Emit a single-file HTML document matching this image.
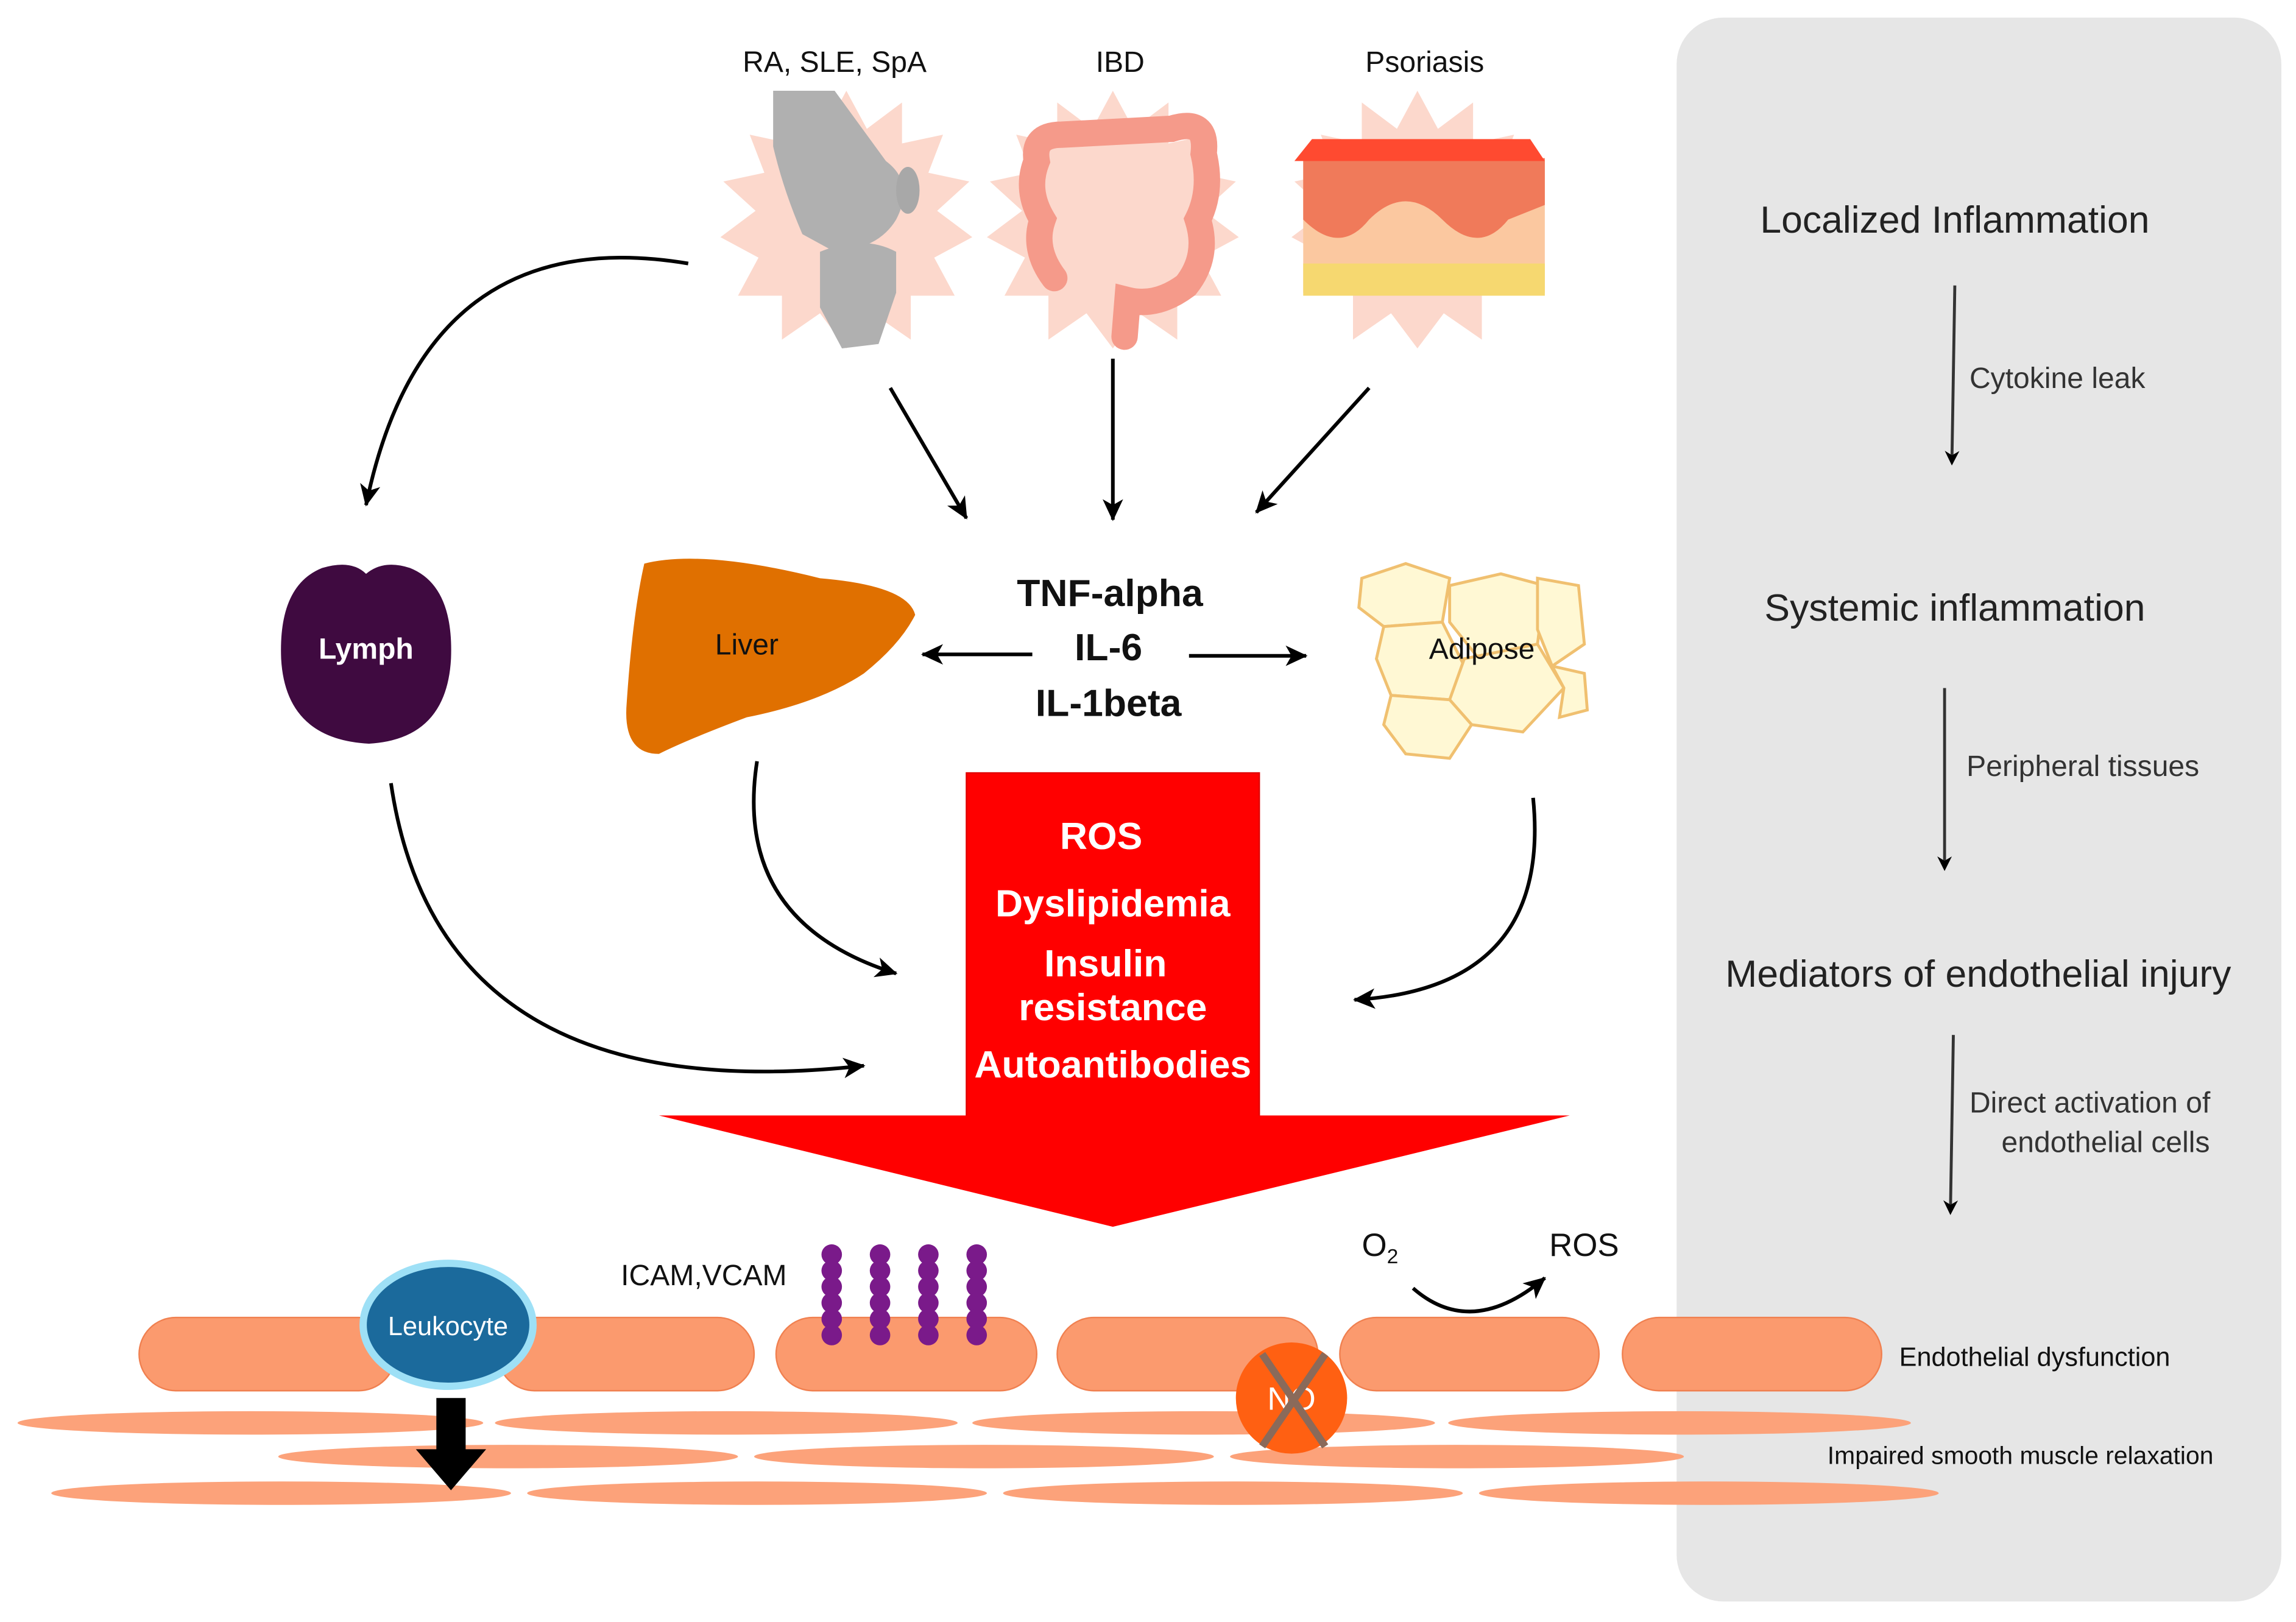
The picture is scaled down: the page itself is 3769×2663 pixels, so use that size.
<!DOCTYPE html>
<html><head><meta charset="utf-8"><style>
html,body{margin:0;padding:0;background:#fff;}
svg{display:block;}
text{font-family:"Liberation Sans",sans-serif;}
</style></head><body>
<svg width="3769" height="2663" viewBox="0 0 1568 1108" preserveAspectRatio="none" xmlns="http://www.w3.org/2000/svg">
<defs>
<marker id="ah" markerWidth="10" markerHeight="10" refX="8" refY="5" orient="auto" markerUnits="userSpaceOnUse">
<path d="M0,0 L10,5 L0,10 L3,5 Z" fill="#000"/></marker>
<marker id="ah2" markerWidth="16" markerHeight="16" refX="14" refY="8" orient="auto" markerUnits="userSpaceOnUse">
<path d="M0,1 L15,8 L0,15 L4,8 Z" fill="#000"/></marker>
<g id="chain"><circle cx="0" cy="0" r="7"/><circle cx="0" cy="11" r="7"/><circle cx="0" cy="22" r="7"/><circle cx="0" cy="33" r="7"/><circle cx="0" cy="44" r="7"/><circle cx="0" cy="55" r="7"/></g>
</defs>
<rect width="1568" height="1108" fill="#fff"/>
<rect x="1145" y="12" width="413" height="1082" rx="32" fill="#e6e6e6"/>
<g font-size="26" text-anchor="middle" fill="#222">
<text x="1335" y="159">Localized Inflammation</text>
<text x="1335" y="424">Systemic inflammation</text>
<text x="1351" y="674">Mediators of endothelial injury</text>
</g>
<g stroke="#333" stroke-width="2" marker-end="url(#ah)">
<line x1="1335" y1="195" x2="1333" y2="316"/>
<line x1="1328" y1="470" x2="1328" y2="593"/>
<line x1="1334" y1="707" x2="1332" y2="828"/>
</g>
<g font-size="20" fill="#333">
<text x="1345" y="265">Cytokine leak</text>
<text x="1343" y="530">Peripheral tissues</text>
<text x="1345" y="760">Direct activation of</text>
<text x="1438" y="787" text-anchor="middle">endothelial cells</text>
<text x="1297" y="933" font-size="18" fill="#111">Endothelial dysfunction</text>
<text x="1248" y="1000" font-size="17" fill="#111">Impaired smooth muscle relaxation</text>
</g>
<g font-size="20" text-anchor="middle" fill="#111">
<text x="570" y="49">RA, SLE, SpA</text>
<text x="765" y="49">IBD</text>
<text x="973" y="49">Psoriasis</text>
</g>
<g fill="#fcd8cc">
<polygon id="sb" points="0,-88 14,-62 38,-80 38,-52 66,-58 56,-32 84,-26 62,-6 86,12 60,26 74,52 44,52 44,82 18,64 0,88 -18,64 -44,82 -44,52 -74,52 -60,26 -86,12 -62,-6 -84,-26 -56,-32 -66,-58 -38,-52 -38,-80 -14,-62" transform="translate(578,150)"/>
<use href="#sb" transform="translate(182,0)"/>
<use href="#sb" transform="translate(390,0)"/>
</g>
<path d="M528,62 L570,62 L605,110 Q625,125 612,150 Q600,170 570,172 L548,160 Q535,130 528,100 Z" fill="#b0b0b0"/>
<path d="M560,172 Q590,160 612,172 L612,200 L600,235 L575,238 L560,210 Z" fill="#b0b0b0"/>
<ellipse cx="620" cy="130" rx="8" ry="16" fill="#a8a8a8"/>
<path d="M720,190 Q705,170 712,150 Q700,130 708,110 Q705,92 725,92 L800,88 Q825,80 822,105 Q828,130 818,150 Q826,175 810,195 Q790,210 770,205 L768,230" fill="none" stroke="#f59a8a" stroke-width="18" stroke-linecap="round"/>
<rect x="890" y="110" width="165" height="90" fill="#fbc8a0"/>
<rect x="890" y="180" width="165" height="22" fill="#f6d870"/>
<path d="M890,108 L890,150 Q915,175 935,150 Q960,125 985,150 Q1010,175 1030,150 L1055,140 L1055,108 Z" fill="#f07a5a"/>
<polygon points="884,110 896,95 1045,95 1055,110" fill="#ff4a30"/>
<g stroke="#000" stroke-width="2.5" fill="none" marker-end="url(#ah2)">
<path d="M470,180 Q290,150 250,345"/>
<line x1="608" y1="265" x2="660" y2="354"/>
<line x1="760" y1="245" x2="760" y2="355"/>
<line x1="935" y1="265" x2="858" y2="350"/>
<line x1="705" y1="447" x2="630" y2="447"/>
<line x1="812" y1="448" x2="892" y2="448"/>
<path d="M267,535 Q300,760 590,728"/>
<path d="M517,520 Q500,630 612,665"/>
<path d="M1047,545 Q1060,675 925,683"/>
<path d="M965,880 Q1005,915 1055,873"/>
</g>
<g font-size="26" text-anchor="middle" fill="#111" font-weight="bold">
<text x="758" y="414">TNF-alpha</text>
<text x="757" y="451">IL-6</text>
<text x="757" y="489">IL-1beta</text>
</g>
<path d="M220,388 Q240,382 250,392 Q262,382 280,388 Q310,400 308,450 Q305,505 252,508 Q195,505 192,450 Q190,400 220,388 Z" fill="#3f0a40"/>
<text x="250" y="450" font-size="20" font-weight="bold" fill="#fff" text-anchor="middle">Lymph</text>
<path d="M440,385 Q480,375 560,395 Q620,400 625,420 Q615,440 590,460 Q560,480 510,490 Q470,505 450,515 Q425,515 428,480 Q432,420 440,385 Z" fill="#e07000"/>
<text x="510" y="447" font-size="20" fill="#111" text-anchor="middle">Liver</text>
<g fill="#fff8d4" stroke="#f0c070" stroke-width="2">
<path d="M930,395 L960,385 L990,395 L985,425 L945,428 L928,415 Z"/>
<path d="M990,400 L1025,392 L1055,400 L1050,440 L1010,450 L990,425 Z"/>
<path d="M1050,395 L1078,400 L1082,440 L1060,455 L1050,430 Z"/>
<path d="M945,428 L985,425 L1000,455 L990,478 L950,475 L940,450 Z"/>
<path d="M1000,450 L1050,440 L1068,470 L1040,500 L1005,495 L990,478 Z"/>
<path d="M950,475 L990,478 L1005,495 L990,518 L960,515 L945,495 Z"/>
<path d="M1060,455 L1082,460 L1084,485 L1065,490 L1068,470 Z"/>
</g>
<text x="1012" y="450" font-size="20" fill="#111" text-anchor="middle">Adipose</text>
<rect x="660" y="528" width="200" height="236" fill="#ff0000" stroke="#e00000"/>
<polygon points="450,762 1072,762 760,838" fill="#ff0000"/>
<g font-size="26" text-anchor="middle" fill="#fff" font-weight="bold">
<text x="752" y="580">ROS</text>
<text x="760" y="626">Dyslipidemia</text>
<text x="755" y="667">Insulin</text>
<text x="760" y="697">resistance</text>
<text x="760" y="736">Autoantibodies</text>
</g>
<g fill="#fca27a">
<ellipse cx="171" cy="972" rx="159" ry="8"/><ellipse cx="496" cy="972" rx="158" ry="8"/><ellipse cx="822" cy="972" rx="158" ry="8"/><ellipse cx="1147" cy="972" rx="158" ry="8"/>
<ellipse cx="347" cy="995" rx="157" ry="8"/><ellipse cx="672" cy="995" rx="157" ry="8"/><ellipse cx="995" cy="995" rx="155" ry="8"/>
<ellipse cx="192" cy="1020" rx="157" ry="8"/><ellipse cx="517" cy="1020" rx="157" ry="8"/><ellipse cx="842" cy="1020" rx="157" ry="8"/><ellipse cx="1167" cy="1020" rx="157" ry="8"/>
</g>
<g fill="#fb9a6e" stroke="#f08050" stroke-width="1">
<rect x="95" y="900" width="175" height="50" rx="25"/>
<rect x="340" y="900" width="175" height="50" rx="25"/>
<rect x="530" y="900" width="178" height="50" rx="25"/>
<rect x="722" y="900" width="178" height="50" rx="25"/>
<rect x="915" y="900" width="177" height="50" rx="25"/>
<rect x="1108" y="900" width="177" height="50" rx="25"/>
</g>
<ellipse cx="306" cy="905" rx="58" ry="42" fill="#1b6a9c" stroke="#9ee0f6" stroke-width="5"/>
<text x="306" y="912" font-size="18" fill="#fff" text-anchor="middle">Leukocyte</text>
<polygon points="298,955 318,955 318,990 332,990 308,1018 284,990 298,990" fill="#000"/>
<text x="424" y="878" font-size="20" fill="#111">ICAM,VCAM</text>
<g fill="#7a1a8a">
<use href="#chain" transform="translate(568,857)"/>
<use href="#chain" transform="translate(601,857)"/>
<use href="#chain" transform="translate(634,857)"/>
<use href="#chain" transform="translate(667,857)"/>
</g>
<circle cx="882" cy="955" r="38" fill="#ff6012"/>
<text x="882" y="963" font-size="22" fill="#fff" text-anchor="middle">NO</text>
<path d="M862,925 L905,988 M905,925 L862,988" stroke="#8a6a5a" stroke-width="5"/>
<text x="930" y="858" font-size="22" fill="#111">O<tspan font-size="14" dy="5">2</tspan></text>
<text x="1058" y="858" font-size="22" fill="#111">ROS</text>
</svg>
</body></html>
